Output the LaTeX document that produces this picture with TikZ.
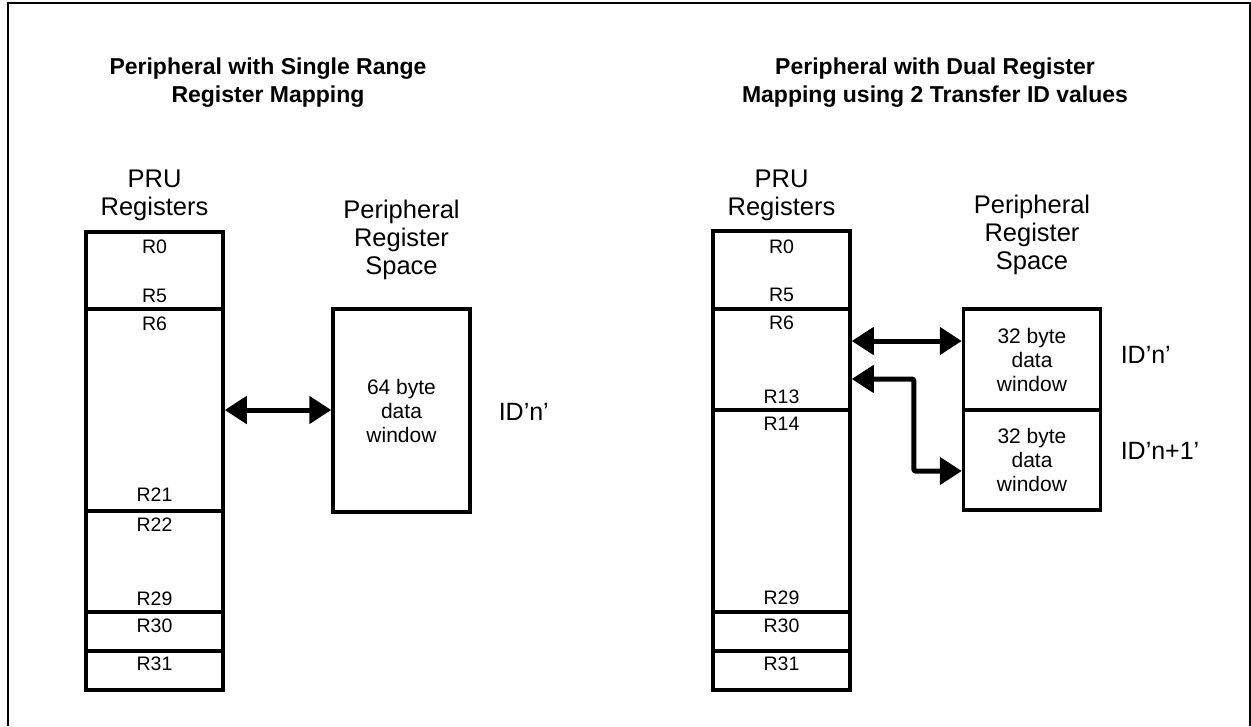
\documentclass[tikz,border=0pt]{standalone}
\usepackage{fontspec}
\setmainfont{Liberation Sans}
\usetikzlibrary{arrows.meta, positioning, calc}
\tikzset{
  every picture/.style={line width=3.5pt},
  cell/.style={draw, rectangle, inner sep=0pt, minimum width=137pt},
  win/.style={draw, rectangle, inner sep=0pt, minimum width=137pt, align=center, font=\fontsize{21}{24}\selectfont},
  reg/.style={inner sep=0pt, font=\fontsize{19.5}{20}\selectfont},
  head/.style={inner sep=0pt, align=center, anchor=north, font=\fontsize{25.5}{28}\selectfont},
  title/.style={inner sep=0pt, align=center, anchor=north, font=\bfseries\fontsize{23}{28}\selectfont},
  idtag/.style={inner sep=0pt, anchor=west, font=\fontsize{25}{28}\selectfont},
  biarrow/.style={{Triangle[length=22pt,width=27pt]}-{Triangle[length=22pt,width=27pt]}, line width=5pt},
}

\begin{document}
\begin{tikzpicture}[x=1pt, y=-1pt]
  \useasboundingbox (0,0) rectangle (1251,726);
  % open frame
  \draw[line width=2pt] (7.5,726) -- (7.5,3) -- (1249.5,3) -- (1249.5,726);
  % single range
  \node[title] (ltitle) at (268,56) {Peripheral with Single Range\\Register Mapping};
  \node[head] (lpru) at (154.5,168) {PRU\\Registers};
  \node[head] (lspace) at (401.5,198) {Peripheral\\Register\\Space};
  \node[cell, minimum height=77pt] (lA) at (154.5,270.5) {};
  \node[cell, minimum height=202pt] (lB) at (154.5,410) {};
  \node[cell, minimum height=101pt] (lC) at (154.5,561.5) {};
  \node[cell, minimum height=39pt] (lD) at (154.5,631.5) {};
  \node[cell, minimum height=39pt] (lE) at (154.5,670.5) {};
  \foreach \r/\y in {R0/247, R5/296, R6/324, R21/495, R22/525, R29/599, R30/626, R31/664}
    \node[reg] (l\r) at (154.5,\y) {\r};
  \node[win, minimum height=203pt] (lwin) at (401.5,410.5) {64 byte\\data\\window};
  \node[idtag] (lid) at (497,412) {ID'n'};
  \draw[biarrow] (lB.east) -- (lB.east -| lwin.west);
  % dual register
  \node[title] (rtitle) at (935,56) {Peripheral with Dual Register\\Mapping using 2 Transfer ID values};
  \node[head] (rpru) at (781.5,168) {PRU\\Registers};
  \node[head] (rspace) at (1032,193) {Peripheral\\Register\\Space};
  \node[cell, minimum height=78pt] (rA) at (781.5,270) {};
  \node[cell, minimum height=101pt] (rB) at (781.5,359.5) {};
  \node[cell, minimum height=202pt] (rC) at (781.5,511) {};
  \node[cell, minimum height=39pt] (rD) at (781.5,631.5) {};
  \node[cell, minimum height=39pt] (rE) at (781.5,670.5) {};
  \foreach \r/\y in {R0/247, R5/295, R6/323, R13/397, R14/424, R29/598, R30/626, R31/664}
    \node[reg] (r\r) at (781.5,\y) {\r};
  \node[win, minimum height=101pt] (rwinA) at (1032,359.5) {32 byte\\data\\window};
  \node[win, minimum height=100pt] (rwinB) at (1032,460) {32 byte\\data\\window};
  \node[idtag] (ridA) at (1119,355) {ID'n'};
  \node[idtag] (ridB) at (1119,451) {ID'n+1'};
  \draw[biarrow] ([yshift=18.5pt]rB.east) -- ([yshift=18.5pt]rB.east -| rwinA.west);
  \draw[biarrow, rounded corners=2pt] ([yshift=-19.5pt]rB.east) -- ++(62,0) |- ([yshift=-11pt]rwinB.west);
\end{tikzpicture}
\end{document}
